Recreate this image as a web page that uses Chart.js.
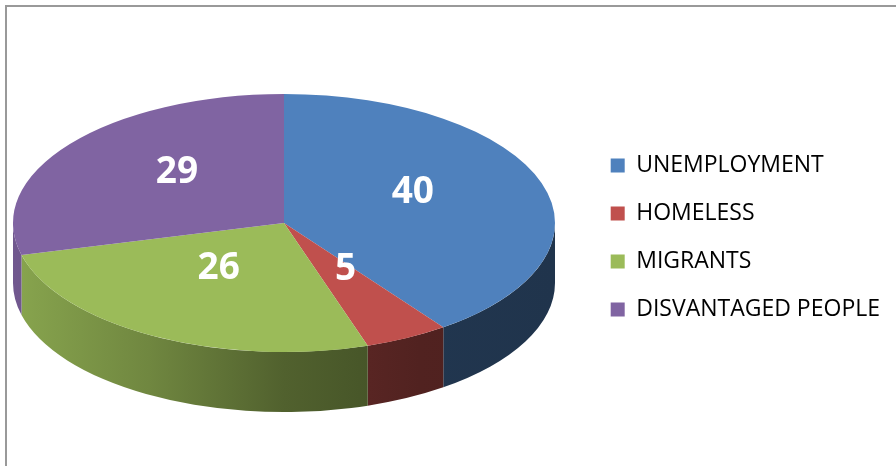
<!DOCTYPE html>
<html>
<head>
<meta charset="utf-8">
<script src="https://cdn.jsdelivr.net/npm/chart.js@4/dist/chart.umd.min.js"></script>
<style>
  html, body { margin: 0; padding: 0; background: #fff; }
  #wrap { position: relative; width: 896px; height: 466px; overflow: hidden; }
  #frame { position: absolute; left: 5px; top: 5px; width: 910px; height: 480px;
           border-top: 2px solid #999; border-left: 2px solid #999; }
  #pie { position: absolute; left: 0; top: 0; }
</style>
</head>
<body>
<div id="wrap">
  <div id="frame"></div>
  <canvas id="pie" width="896" height="466"></canvas>
</div>
<script>
const labels = ['UNEMPLOYMENT', 'HOMELESS', 'MIGRANTS', 'DISVANTAGED PEOPLE']
const values = [40, 5, 26, 29]
const colors = ['#4F81BD', '#C0504D', '#9BBB59', '#8064A2']

// where the flattened pie sits on the page
const PIE_X = 284
const PIE_Y = 223
const PIE_RX = 271
const PIE_RY = 129
const PIE_DEPTH = 60

function shade(hex, f) {
  let r = parseInt(hex.substr(1, 2), 16)
  let g = parseInt(hex.substr(3, 2), 16)
  let b = parseInt(hex.substr(5, 2), 16)
  return 'rgb(' + Math.round(r * f) + ',' + Math.round(g * f) + ',' + Math.round(b * f) + ')'
}

const pie3d = {
  id: 'pie3d',
  beforeDatasetsDraw(chart) {
    let ctx = chart.ctx
    let arcs = chart.getDatasetMeta(0).data

    // side wall, only the front half shows
    for (let i = 0; i < arcs.length; i++) {
      let a = arcs[i]
      let start = Math.max(a.startAngle, 0)
      let end = Math.min(a.endAngle, Math.PI)
      if (end <= start) continue
      let grad = ctx.createLinearGradient(PIE_X - PIE_RX, 0, PIE_X + PIE_RX, 0)
      grad.addColorStop(0, shade(colors[i], 0.88))
      grad.addColorStop(0.25, shade(colors[i], 0.72))
      grad.addColorStop(0.5, shade(colors[i], 0.52))
      grad.addColorStop(0.75, shade(colors[i], 0.42))
      grad.addColorStop(1, shade(colors[i], 0.4))
      ctx.beginPath()
      ctx.ellipse(PIE_X, PIE_Y, PIE_RX, PIE_RY, 0, start, end)
      ctx.lineTo(PIE_X + PIE_RX * Math.cos(end), PIE_Y + PIE_DEPTH + PIE_RY * Math.sin(end))
      ctx.ellipse(PIE_X, PIE_Y + PIE_DEPTH, PIE_RX, PIE_RY, 0, end, start, true)
      ctx.closePath()
      ctx.fillStyle = grad
      ctx.fill()
    }

    // squash the round pie into the tilted top face
    let a0 = arcs[0]
    ctx.save()
    ctx.translate(PIE_X, PIE_Y)
    ctx.scale(PIE_RX / a0.outerRadius, PIE_RY / a0.outerRadius)
    ctx.translate(-a0.x, -a0.y)
  },
  afterDatasetsDraw(chart) {
    let ctx = chart.ctx
    ctx.restore()

    let arcs = chart.getDatasetMeta(0).data
    ctx.save()
    ctx.fillStyle = '#fff'
    ctx.font = 'bold 37px "Open Sans"'
    ctx.textAlign = 'center'
    ctx.textBaseline = 'middle'
    for (let i = 0; i < arcs.length; i++) {
      let mid = (arcs[i].startAngle + arcs[i].endAngle) / 2
      let x = PIE_X + PIE_RX * 0.5 * Math.cos(mid)
      let y = PIE_Y + PIE_RY * 0.5 * Math.sin(mid) - 11
      ctx.fillText(String(values[i]), x, y)
    }
    ctx.restore()
  }
}

new Chart(document.getElementById('pie'), {
  type: 'pie',
  data: {
    labels: labels,
    datasets: [{
      data: values,
      backgroundColor: colors,
      borderWidth: 0,
      clip: false
    }]
  },
  options: {
    responsive: false,
    animation: false,
    layout: { padding: { right: 6, top: 9 } },
    plugins: {
      legend: {
        position: 'right',
        labels: {
          boxWidth: 14,
          boxHeight: 14,
          padding: 25,
          color: '#000',
          font: { family: 'Open Sans', size: 23 }
        }
      },
      tooltip: { enabled: false }
    }
  },
  plugins: [pie3d]
})
</script>
</body>
</html>
